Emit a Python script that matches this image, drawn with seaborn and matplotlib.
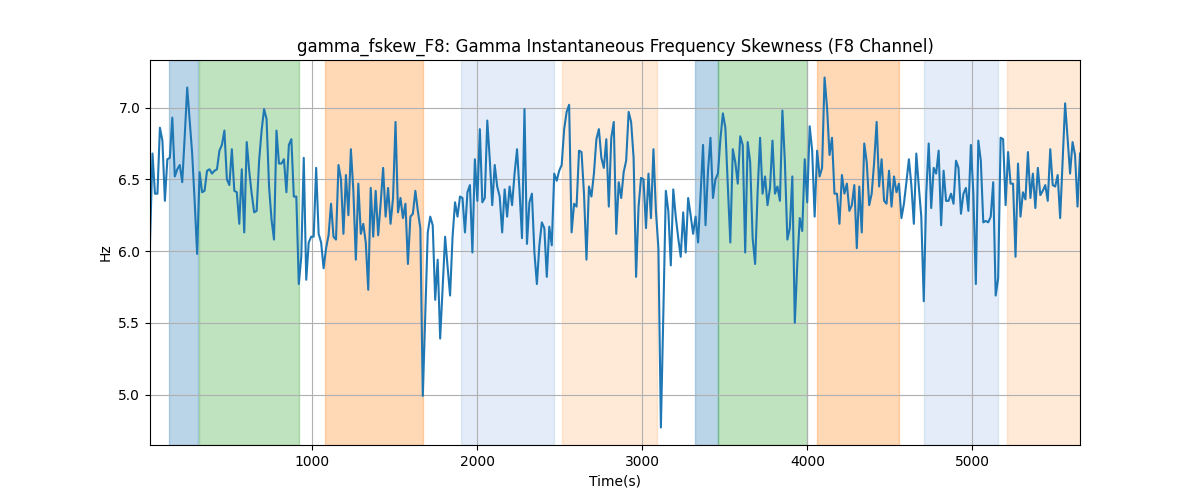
import numpy as np
import pandas as pd
import matplotlib
matplotlib.use('Agg')
import matplotlib.pyplot as plt
import seaborn as sns

# values, left to right
seg1 = [6.06, 6.68, 6.40, 6.40, 6.86, 6.77, 6.35, 6.64, 6.65, 6.93, 6.52, 6.57, 6.60, 6.48, 6.80, 7.14,
        6.91, 6.68, 6.35, 5.98, 6.55, 6.41, 6.42, 6.56, 6.57, 6.54, 6.56, 6.57, 6.70, 6.74, 6.84, 6.50,
        6.46, 6.71, 6.42, 6.41, 6.19, 6.57, 6.13, 6.76, 6.56, 6.40, 6.27, 6.28, 6.63, 6.84, 6.99]
seg2 = [6.92, 6.45, 6.22, 6.08, 6.84, 6.61, 6.61, 6.64, 6.41, 6.74, 6.78, 6.38, 6.38, 5.77, 5.96, 6.65,
        5.80, 6.06, 6.10, 6.10, 6.58, 6.12, 6.06, 5.88, 6.02, 6.11, 6.33, 6.10, 6.08, 6.60, 6.50, 6.12,
        6.53, 6.25, 6.71, 6.42, 5.94, 6.47, 6.12, 6.19, 6.06, 5.73, 6.44, 6.10, 6.42, 6.11]
seg3 = [6.33, 6.58, 6.24, 6.44, 6.19, 6.37, 6.90, 6.27, 6.37, 6.23, 6.33, 5.91, 6.24, 6.26, 6.42, 6.28,
        6.16, 4.99, 5.57, 6.13, 6.24, 6.18, 5.66, 5.94, 5.39, 5.75, 6.10, 5.89, 5.69, 6.10, 6.34, 6.24,
        6.38, 6.37, 6.13, 6.41, 6.46, 5.99, 6.64, 6.35, 6.85, 6.34, 6.37, 6.91, 6.64, 6.32, 6.60]
seg4 = [6.45, 6.38, 6.13, 6.43, 6.24, 6.45, 6.32, 6.54, 6.71, 6.42, 6.09, 6.99, 6.05, 6.34, 6.40, 5.99,
        5.77, 6.04, 6.20, 6.16, 5.82, 6.17, 6.04, 6.54, 6.49, 6.56, 6.60, 6.85, 6.97, 7.02, 6.13, 6.33,
        6.31, 6.70, 6.69, 6.40, 5.94, 6.45, 6.38, 6.54, 6.78, 6.85, 6.65, 6.58, 6.78, 6.31, 6.79]
seg5 = [6.90, 6.12, 6.48, 6.37, 6.55, 6.63, 6.97, 6.90, 6.65, 5.82, 6.31, 6.51, 6.50, 6.16, 6.54, 6.23,
        6.71, 6.28, 6.02, 4.77, 5.57, 6.42, 6.28, 5.90, 6.43, 6.24, 6.09, 5.96, 6.27, 5.99, 6.37, 6.25,
        6.12, 6.24, 6.06, 6.39, 6.74, 6.18, 6.56, 6.79, 6.37, 6.50, 6.54, 6.78, 6.96, 6.86, 6.45]
seg6 = [6.06, 6.71, 6.62, 6.47, 6.80, 6.74, 5.99, 6.76, 6.62, 6.09, 5.91, 6.41, 6.79, 6.40, 6.52, 6.32,
        6.44, 6.77, 6.40, 6.45, 6.35, 6.98, 6.62, 6.08, 6.16, 6.52, 5.50, 5.91, 6.23, 6.14, 6.64, 6.34,
        6.87, 6.70, 6.24, 6.70, 6.52, 6.58, 7.21, 7.00, 6.67, 6.79, 6.40, 6.40, 6.19, 6.53, 6.40]
seg7 = [6.47, 6.28, 6.32, 6.46, 6.02, 6.45, 6.13, 6.75, 6.62, 6.32, 6.40, 6.62, 6.90, 6.45, 6.64, 6.35,
        6.33, 6.56, 6.31, 6.52, 6.41, 6.47, 6.23, 6.33, 6.48, 6.64, 6.46, 6.19, 6.68, 6.45, 6.24, 5.65,
        6.40, 6.75, 6.30, 6.58, 6.54, 6.70, 6.18, 6.56, 6.35, 6.35, 6.40, 6.33, 6.63, 6.58]
seg8 = [6.26, 6.40, 6.44, 6.28, 6.74, 6.40, 5.77, 6.77, 6.63, 6.20, 6.21, 6.20, 6.24, 6.48, 5.69, 5.81,
        6.79, 6.78, 6.32, 6.69, 6.47, 6.47, 5.96, 6.61, 6.24, 6.41, 6.36, 6.69, 6.37, 6.54, 6.30, 6.58,
        6.39, 6.42, 6.46, 6.35, 6.71, 6.46, 6.45, 6.53, 6.23, 6.63, 7.03, 6.79, 6.54, 6.76, 6.67, 6.31, 6.68]

t_start, t_end = 17, 5652

# shaded intervals (start, end, colour, alpha)
span_starts = [132, 312, 1079, 1900, 2511, 3319, 3460, 4059, 4709, 5212]
span_ends = [308, 919, 1672, 2463, 3086, 3460, 4000, 4555, 5156, 5652]
span_colors = ['tab:blue', 'tab:green', 'tab:orange', '#3f7fcf', 'tab:orange',
               'tab:blue', 'tab:green', 'tab:orange', '#3f7fcf', 'tab:orange']
span_alphas = [0.3, 0.3, 0.3, 0.14, 0.16, 0.3, 0.3, 0.3, 0.14, 0.16]

vals = seg1 + seg2 + seg3 + seg4 + seg5 + seg6 + seg7 + seg8
df = pd.DataFrame({'time': np.linspace(t_start, t_end, len(vals)), 'hz': vals})

fig, ax = plt.subplots(figsize=(12, 5))
for s, e, c, a in zip(span_starts, span_ends, span_colors, span_alphas):
    ax.axvspan(s, e, color=c, alpha=a)
sns.lineplot(data=df, x='time', y='hz', ax=ax, color='tab:blue', linewidth=1.5)
ax.set_xlim(t_start, t_end)
ax.grid(True)
ax.set_title('gamma_fskew_F8: Gamma Instantaneous Frequency Skewness (F8 Channel)')
ax.set_xlabel('Time(s)')
ax.set_ylabel('Hz')
fig.savefig('out.png', dpi=100)
plt.close('all')
